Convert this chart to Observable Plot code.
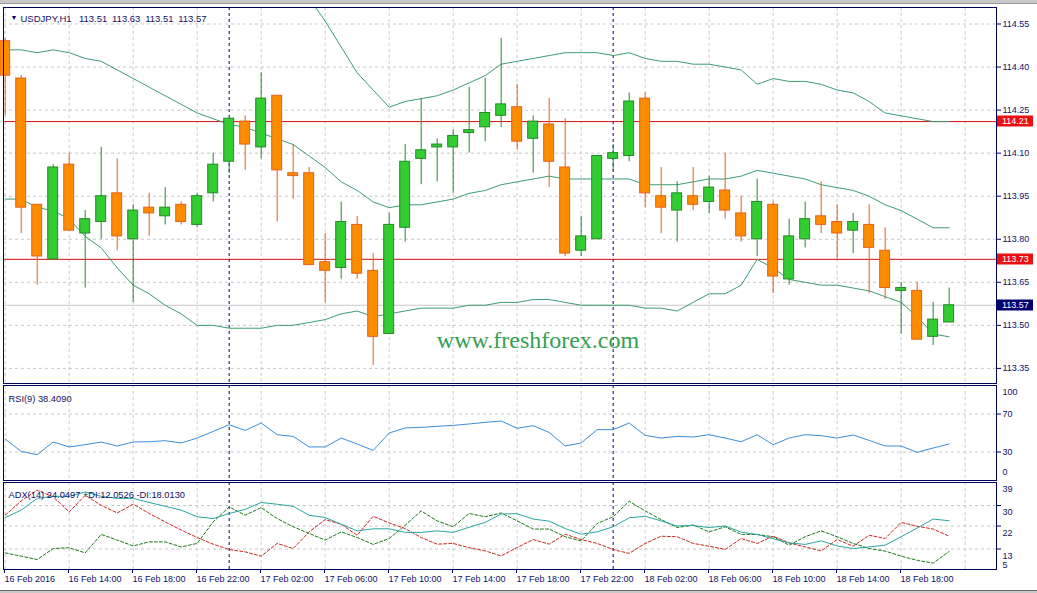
<!DOCTYPE html>
<html><head><meta charset="utf-8">
<script src="https://cdn.jsdelivr.net/npm/d3@7"></script>
<script src="https://cdn.jsdelivr.net/npm/@observablehq/plot@0.6"></script>
<style>
html,body{margin:0;padding:0;background:#fff;}
body{width:1037px;height:593px;overflow:hidden;position:relative;font-family:"Liberation Sans",Arial,sans-serif;}
.panel{position:absolute;left:0;}
#topbar{position:absolute;left:0;top:0;width:1037px;height:3px;background:#c8c8c8;border-bottom:1px solid #9a9a9a;}
#botbar{position:absolute;left:0;top:590px;width:1037px;height:3px;background:#c8c8c8;border-top:1px solid #6a6a6a;}
</style></head><body>
<div id="topbar"></div>
<div id="main" class="panel" style="top:0"></div>
<div id="rsi" class="panel" style="top:384px"></div>
<div id="adx" class="panel" style="top:481px"></div>
<div id="botbar"></div>
<script>
// ---- data (USDJPY H1, 16 Feb 2016 10:00 .. 18 Feb 2016 21:00) ----
const symbol = "USDJPY,H1";
const open  = [114.49,114.36,113.92,113.73,114.06,113.82,113.86,113.96,113.80,113.91,113.88,113.92,113.85,113.96,114.07,114.21,114.12,114.30,114.03,114.03,113.72,113.70,113.85,113.69,113.47,113.84,114.08,114.12,114.12,114.17,114.19,114.23,114.26,114.15,114.20,114.05,113.76,113.80,114.08,114.09,114.29,113.95,113.90,113.95,113.93,113.97,113.89,113.80,113.92,113.66,113.80,113.88,113.86,113.83,113.85,113.76,113.62,113.62,113.46,113.51];
const high  = [114.50,114.37,113.92,114.06,114.10,113.90,114.12,114.08,113.92,113.96,113.98,113.93,113.96,114.10,114.22,114.23,114.38,114.30,114.13,114.05,113.82,113.93,113.88,113.75,113.89,114.13,114.29,114.15,114.18,114.33,114.36,114.50,114.34,114.23,114.29,114.22,113.88,114.09,114.13,114.31,114.31,114.05,114.00,114.05,114.02,114.10,113.95,114.01,113.93,113.87,113.93,114.00,113.92,113.89,113.92,113.84,113.65,113.65,113.58,113.63];
const low   = [114.23,113.82,113.64,113.73,113.83,113.63,113.80,113.76,113.58,113.81,113.85,113.85,113.84,113.93,114.03,114.04,114.08,113.86,113.94,113.71,113.58,113.66,113.66,113.36,113.47,113.79,113.99,114.00,113.96,114.10,114.14,114.19,114.11,114.03,113.98,113.74,113.74,113.80,114.04,114.07,113.91,113.82,113.79,113.90,113.89,113.87,113.79,113.74,113.61,113.64,113.77,113.82,113.73,113.75,113.61,113.59,113.47,113.45,113.43,113.51];
const close = [114.37,113.91,113.74,114.05,113.83,113.87,113.95,113.81,113.90,113.89,113.91,113.86,113.95,114.06,114.22,114.13,114.29,114.04,114.02,113.71,113.69,113.86,113.68,113.46,113.85,114.07,114.11,114.13,114.16,114.18,114.24,114.27,114.14,114.21,114.07,113.75,113.81,114.09,114.10,114.28,113.96,113.91,113.96,113.92,113.98,113.90,113.81,113.93,113.67,113.81,113.87,113.85,113.82,113.86,113.77,113.63,113.63,113.45,113.52,113.57];

const bbUpper = [null,null,null,null,null,null,null,null,null,null,null,null,null,null,null,null,null,null,
  114.73,114.64,114.56,114.47,114.38,114.32,114.26,114.28,114.29,114.30,114.32,114.345,114.37,114.41,114.42,114.43,114.44,114.45,114.45,114.45,114.44,114.45,
  114.43,114.42,114.42,114.41,114.41,114.40,114.39,114.34,114.36,114.35,114.35,114.34,114.32,114.31,114.28,114.24,114.23,114.22,114.21,114.21];
const bbMiddle = [114.46,114.46,114.45,114.46,114.45,114.43,114.42,114.39,114.36,114.33,114.30,114.27,114.24,114.22,114.20,114.19,114.17,114.15,114.13,114.09,
  114.05,114.00,113.97,113.93,113.91,113.92,113.92,113.93,113.94,113.96,113.97,113.99,114.00,114.01,114.02,114.01,114.01,114.01,114.01,114.01,
  113.99,113.99,113.99,114.00,114.01,114.01,114.02,114.04,114.03,114.02,114.01,113.99,113.98,113.97,113.95,113.92,113.90,113.87,113.84,113.84];
const bbLower = [113.94,113.94,113.91,113.90,113.87,113.81,113.77,113.70,113.64,113.61,113.57,113.54,113.50,113.50,113.49,113.49,113.49,113.50,113.50,113.51,
  113.52,113.54,113.55,113.53,113.54,113.55,113.56,113.56,113.56,113.57,113.57,113.58,113.58,113.59,113.59,113.58,113.57,113.57,113.57,113.57,
  113.56,113.56,113.55,113.58,113.61,113.61,113.64,113.73,113.70,113.66,113.65,113.64,113.64,113.63,113.62,113.60,113.58,113.53,113.47,113.46];

const rsi = [43.7,30.6,27.2,40.5,35.3,37.7,40.5,36.3,40.5,40.8,41.9,39.5,44.7,51.7,58.7,52.7,60.5,48.2,46.4,35.3,
  35.3,44.7,38.4,31.7,50.0,55.3,55.9,57.0,58.0,59.5,61.2,62.6,55.0,57.7,50.6,36.3,39.5,53.5,53.5,60.5,
  47.5,44.7,46.4,45.8,48.2,44.7,40.8,48.2,37.7,44.7,48.2,47.2,44.7,47.9,42.2,36.3,36.3,29.6,34.2,38.409];
const adx = [25.3,28.2,32.8,33.6,33.6,35.3,33.6,32.8,32.8,31.2,29.7,28.2,25.6,24.9,26.9,28.5,31.2,30.5,29.7,26.2,
  25.3,22.7,20.1,20.9,20.9,19.5,19.5,20.1,19.5,21.5,23.4,26.7,26.8,24.7,23.9,21.0,18.8,19.7,21.7,25.2,
  25.8,24.0,22.0,22.2,21.4,22.0,19.6,18.7,17.0,15.4,14.8,16.2,14.2,13.2,13.8,14.5,17.8,21.2,24.7,24.0497];
const plusDI = [11.5,10.2,8.9,13.2,13.5,11.5,18.7,16.5,14.2,15.8,15.8,13.8,15.2,23.6,29.5,26.2,29.2,24.9,21.7,19.1,
  16.5,19.7,17.5,14.8,17.1,22.3,27.9,24.0,21.7,26.9,25.6,27.1,24.0,20.8,20.8,17.8,16.2,23.0,25.6,31.7,
  27.9,24.5,21.4,22.4,19.7,21.7,18.7,18.7,17.8,14.5,17.8,20.1,17.8,15.2,13.2,12.2,10.2,8.6,7.5,12.0526];
const minusDI = [26.2,31.8,36.0,33.4,27.5,34.0,30.1,27.1,30.5,26.9,23.6,20.4,17.5,14.9,12.8,11.9,10.2,15.2,13.2,19.7,
  24.5,22.7,18.4,25.8,23.2,21.0,17.5,14.9,15.2,13.5,12.3,10.3,13.6,16.7,14.9,18.8,16.7,15.2,12.8,11.3,
  15.2,18.0,17.8,15.2,14.1,12.8,17.1,15.2,18.0,15.4,13.8,12.3,16.7,14.1,18.4,17.1,23.4,21.9,20.8,18.013];

const timeLabels = ["16 Feb 2016","16 Feb 14:00","16 Feb 18:00","16 Feb 22:00","17 Feb 02:00","17 Feb 06:00","17 Feb 10:00",
  "17 Feb 14:00","17 Feb 18:00","17 Feb 22:00","18 Feb 02:00","18 Feb 06:00","18 Feb 10:00","18 Feb 14:00","18 Feb 18:00"];
const priceTicks = [113.35,113.50,113.65,113.80,113.95,114.10,114.25,114.40,114.55];
const hLevels = [114.21, 113.73];
const rsiTicks = [70, 30];
const rsiTop = 100, rsiBottom = 0;
const adxTicks = [30, 22, 13];
const adxTop = 39, adxBottom = 5;
const daySeparators = [14, 38];

// ---- styling ----
const W = 1037;
const FONT = "Liberation Sans, Arial, sans-serif";
const NAVY = "#000060";
const TXT = "#10106a";
const GRID = {stroke:"#c8c8c8", strokeDasharray:"3,3"};
const SEP = {stroke:"#000080", strokeDasharray:"3,3"};
const xDomain = [-0.106, 61.96];
const gridX = d3.range(0, 61, 4);
const idx = d3.range(open.length);
const candles = idx.map(i => ({i, o:open[i], h:high[i], l:low[i], c:close[i], up: close[i] >= open[i]}));
const BULL = "#32cd32", BULL_S = "#258a25", BEAR = "#ff8c00", BEAR_S = "#e4601a";
const base = {width: W, marginLeft: 3, marginRight: 41, x: {domain: xDomain, axis: null},
  style: {fontFamily: FONT, fontSize: "9px", color: TXT, background: "transparent", overflow: "visible"}};
const rightLabel = (v, dy) => Plot.text([v], {y: d => d, text: d => String(d), frameAnchor:"right", textAnchor:"start", dx: 6, dy, fontSize: 9, fill: TXT});

// ---- main price panel ----
const last = candles[candles.length - 1];
const header = `${symbol}\u2002 ${last.o.toFixed(2)}\u2002${last.h.toFixed(2)}\u2002${last.l.toFixed(2)}\u2002${last.c.toFixed(2)}`;
const main = Plot.plot({
  ...base, height: 384, marginTop: 7, marginBottom: 1,
  y: {domain: [113.2974, 114.6075], axis: null},
  marks: [
    Plot.ruleY(priceTicks, GRID),
    Plot.ruleX(gridX, GRID),
    Plot.ruleY([last.c], {stroke:"#c8c8c8"}),
    Plot.ruleY(hLevels, {stroke:"#d41010"}),
    Plot.ruleX(daySeparators, SEP),
    Plot.text(["www.freshforex.com"], {frameAnchor:"bottom", dx: 38, dy: -36, fontFamily:"Liberation Serif, Times New Roman, serif", fontSize: 24, fill:"#34a052"}),
    Plot.line(idx, {x: i => i, y: i => bbUpper[i], stroke:"#3a9e70", strokeWidth: 1, clip: true}),
    Plot.line(idx, {x: i => i, y: i => bbMiddle[i], stroke:"#3a9e70", strokeWidth: 1, clip: true}),
    Plot.line(idx, {x: i => i, y: i => bbLower[i], stroke:"#3a9e70", strokeWidth: 1, clip: true}),
    Plot.ruleX(candles, {x: "i", y1: "l", y2: "h", stroke: d => d.up ? BULL_S : BEAR_S, strokeWidth: 1}),
    Plot.rect(candles, {x1: d => d.i - 0.31, x2: d => d.i + 0.31, y1: "o", y2: "c",
      fill: d => d.up ? BULL : BEAR, stroke: d => d.up ? BULL_S : BEAR_S, strokeWidth: 1}),
    Plot.axisY(priceTicks, {anchor:"right", tickSize: 4, tickPadding: 2, tickFormat: d => d.toFixed(2), fontSize: 9, stroke: NAVY, fill: TXT}),
    Plot.frame({stroke: NAVY}),
    Plot.text(["\u25BC"], {frameAnchor:"top-left", dx: 7, dy: 8, fontSize: 7, fill: NAVY}),
    Plot.text([header], {frameAnchor:"top-left", dx: 17, dy: 8, textAnchor:"start", fontSize: 9.5, fill: TXT})
  ]
});
document.getElementById("main").appendChild(main);

// price label boxes on the right axis, positioned via the chart's y scale
const ys = main.scale("y");
const svgMain = d3.select(main);
const boxes = [...hLevels.map(v => ({v, bg:"#e81010"})), {v: last.c, bg:"#000070"}];
for (const b of boxes) {
  const y = ys.apply(b.v);
  const g = svgMain.append("g").attr("text-anchor", "start");
  g.append("rect").attr("x", 997).attr("y", Math.round(y) - 5.5).attr("width", 36).attr("height", 11).attr("fill", b.bg);
  g.append("text").attr("x", 1002).attr("y", y).attr("dy", "0.35em").attr("fill", "#fff")
    .attr("text-anchor", "start").attr("font-family", FONT).attr("font-size", 9).text(b.v.toFixed(2));
}

// ---- RSI panel ----
const rsiPlot = Plot.plot({
  ...base, height: 96, marginTop: 1, marginBottom: 0,
  y: {domain: [0, 100], axis: null},
  marks: [
    Plot.ruleY(rsiTicks, GRID),
    Plot.ruleX(gridX, GRID),
    Plot.ruleX(daySeparators, SEP),
    Plot.line(idx, {x: i => i, y: i => rsi[i], stroke:"#3a8fd8", strokeWidth: 1}),
    Plot.axisY(rsiTicks, {anchor:"right", tickSize: 4, tickPadding: 2, fontSize: 9, stroke: NAVY, fill: TXT}),
    rightLabel(rsiTop, 7),
    rightLabel(rsiBottom, -8),
    Plot.frame({stroke: NAVY}),
    Plot.text([`RSI(9) ${rsi[rsi.length-1].toFixed(4)}`], {frameAnchor:"top-left", dx: 5, dy: 9.5, textAnchor:"start", fontSize: 9.3, fill: TXT})
  ]
});
document.getElementById("rsi").appendChild(rsiPlot);

// ---- ADX panel + time axis ----
const adxLabel = `ADX(14) ${adx[adx.length-1].toFixed(4)} +DI:${plusDI[plusDI.length-1].toFixed(4)} -DI:${minusDI[minusDI.length-1].toFixed(4)}`;
const adxPlot = Plot.plot({
  ...base, height: 112, marginTop: 1, marginBottom: 24,
  y: {domain: [5, 39], axis: null},
  marks: [
    Plot.ruleY(adxTicks, GRID),
    Plot.ruleX(gridX, GRID),
    Plot.ruleX(daySeparators, SEP),
    Plot.line(idx, {x: i => i, y: i => plusDI[i], stroke:"#1a7a1a", strokeWidth: 1, strokeDasharray:"3,2"}),
    Plot.line(idx, {x: i => i, y: i => minusDI[i], stroke:"#c8281e", strokeWidth: 1, strokeDasharray:"3,2"}),
    Plot.line(idx, {x: i => i, y: i => adx[i], stroke:"#2aa6a0", strokeWidth: 1}),
    Plot.axisY(adxTicks, {anchor:"right", tickSize: 4, tickFormat: () => "", stroke: NAVY}),
    ...adxTicks.map(v => rightLabel(v, 7)),
    rightLabel(adxTop, 7),
    rightLabel(adxBottom, -4),
    Plot.axisX(gridX.filter(i => i < timeLabels.length * 4), {anchor:"bottom", tickSize: 4, tickPadding: 2,
      tickFormat: i => timeLabels[i / 4], textAnchor:"start", dx: -0.7, fontSize: 9, stroke: NAVY, fill: TXT}),
    Plot.frame({stroke: NAVY}),
    Plot.text([adxLabel], {frameAnchor:"top-left", dx: 5, dy: 9, textAnchor:"start", fontSize: 9.3, fill: TXT})
  ]
});
document.getElementById("adx").appendChild(adxPlot);
</script>
</body></html>
